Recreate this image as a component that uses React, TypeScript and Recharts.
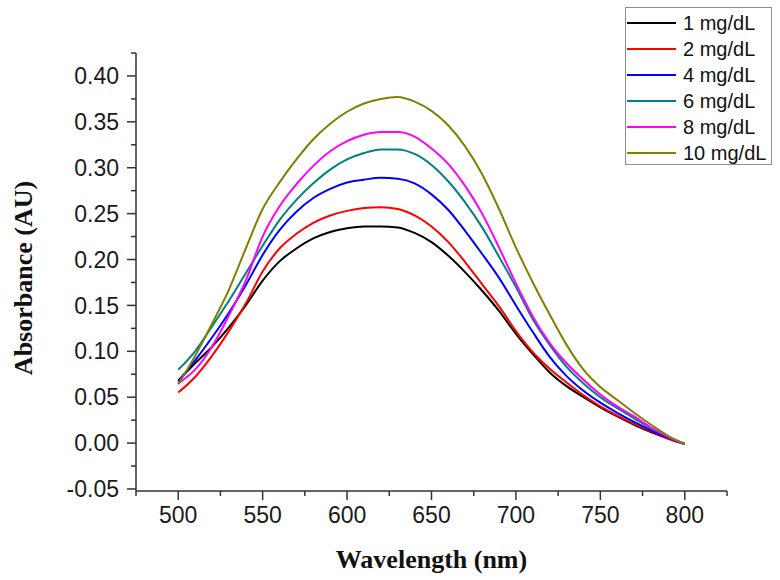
import React from 'react';
import { LineChart, Line, XAxis, YAxis, Legend } from 'recharts';

const wavelengths = [500, 510, 520, 530, 540, 550, 560, 570, 580, 590, 600, 610, 620, 630, 640, 650, 660, 670, 680, 690, 700, 710, 720, 730, 740, 750, 760, 770, 780, 790, 800];

const abs1 = [0.068, 0.087, 0.105, 0.126, 0.150, 0.177, 0.198, 0.212, 0.223, 0.230, 0.234, 0.236, 0.236, 0.235, 0.229, 0.219, 0.204, 0.186, 0.166, 0.144, 0.119, 0.097, 0.077, 0.062, 0.050, 0.039, 0.029, 0.020, 0.012, 0.005, -0.001];
const abs2 = [0.055, 0.072, 0.095, 0.122, 0.152, 0.187, 0.212, 0.228, 0.240, 0.248, 0.253, 0.256, 0.257, 0.255, 0.248, 0.236, 0.219, 0.197, 0.173, 0.149, 0.122, 0.099, 0.081, 0.066, 0.052, 0.040, 0.030, 0.021, 0.013, 0.005, -0.001];
const abs4 = [0.067, 0.090, 0.115, 0.142, 0.172, 0.205, 0.232, 0.252, 0.267, 0.277, 0.284, 0.287, 0.289, 0.288, 0.283, 0.271, 0.254, 0.231, 0.206, 0.180, 0.150, 0.121, 0.094, 0.073, 0.057, 0.044, 0.033, 0.023, 0.014, 0.006, -0.001];
const abs6 = [0.080, 0.100, 0.127, 0.155, 0.185, 0.215, 0.243, 0.265, 0.283, 0.298, 0.309, 0.316, 0.320, 0.320, 0.315, 0.303, 0.285, 0.262, 0.235, 0.203, 0.170, 0.135, 0.107, 0.083, 0.065, 0.050, 0.038, 0.027, 0.016, 0.007, -0.001];
const abs8 = [0.065, 0.080, 0.105, 0.139, 0.177, 0.225, 0.258, 0.282, 0.302, 0.318, 0.329, 0.336, 0.339, 0.339, 0.334, 0.321, 0.304, 0.280, 0.250, 0.213, 0.174, 0.138, 0.109, 0.087, 0.069, 0.053, 0.040, 0.029, 0.017, 0.007, -0.001];
const abs10 = [0.064, 0.095, 0.130, 0.167, 0.212, 0.255, 0.284, 0.309, 0.331, 0.348, 0.361, 0.370, 0.375, 0.377, 0.372, 0.362, 0.346, 0.323, 0.293, 0.255, 0.213, 0.175, 0.140, 0.107, 0.080, 0.061, 0.047, 0.033, 0.020, 0.008, -0.001];

const seriesKeys = ['c1', 'c2', 'c4', 'c6', 'c8', 'c10'];
const seriesNames = ['1 mg/dL', '2 mg/dL', '4 mg/dL', '6 mg/dL', '8 mg/dL', '10 mg/dL'];
const seriesColors = ['#000000', '#ff0000', '#0000ff', '#008080', '#ff00ff', '#808000'];
const seriesValues = [abs1, abs2, abs4, abs6, abs8, abs10];

const xMajorTicks = [500, 550, 600, 650, 700, 750, 800];
const xMinorTicks = [475, 525, 575, 625, 675, 725, 775, 825];
const yMajorTicks = [-0.05, 0, 0.05, 0.1, 0.15, 0.2, 0.25, 0.3, 0.35, 0.4];
const yMinorTicks = [-0.025, 0.025, 0.075, 0.125, 0.175, 0.225, 0.275, 0.325, 0.375, 0.425];

const xTitle = 'Wavelength (nm)';
const yTitle = 'Absorbance (AU)';

const data = wavelengths.map((wl, i) => {
  const row: Record<string, number> = { wl };
  seriesKeys.forEach((k, s) => {
    row[k] = seriesValues[s][i];
  });
  return row;
});

const AXIS_COLOR = '#333333';
const TICK_FONT = '"Liberation Sans", Arial, sans-serif';
const TITLE_FONT = '"Liberation Serif", "Times New Roman", serif';

const isMajor = (v: number, majors: number[]) => majors.some((m) => Math.abs(m - v) < 1e-9);

const XTick = (props: any) => {
  const { x, y, payload } = props;
  const v = payload.value as number;
  const major = isMajor(v, xMajorTicks);
  return (
    <g>
      <line x1={x} x2={x} y1={y} y2={y + (major ? 9 : 5)} stroke={AXIS_COLOR} strokeWidth={1.5} />
      {major && (
        <text x={x} y={y + 16} dy="0.71em" textAnchor="middle" fontFamily={TICK_FONT} fontSize={23} fill="#1a1a1a">
          {v}
        </text>
      )}
    </g>
  );
};

const YTick = (props: any) => {
  const { x, y, payload } = props;
  const v = payload.value as number;
  const major = isMajor(v, yMajorTicks);
  return (
    <g>
      <line x1={x - (major ? 9 : 5)} x2={x} y1={y} y2={y} stroke={AXIS_COLOR} strokeWidth={1.5} />
      {major && (
        <text x={x - 17} y={y} dy="0.355em" textAnchor="end" fontFamily={TICK_FONT} fontSize={23} fill="#1a1a1a">
          {v.toFixed(2)}
        </text>
      )}
    </g>
  );
};

const XTitle = (props: any) => {
  const vb = props.viewBox || {};
  const cx = (vb.x ?? 136) + (vb.width ?? 591) / 2;
  const y = (vb.y ?? 491) + 77;
  return (
    <text x={cx} y={y} textAnchor="middle" fontFamily={TITLE_FONT} fontWeight="bold" fontSize={26} fill="#111">
      {xTitle}
    </text>
  );
};

const YTitle = (props: any) => {
  const vb = props.viewBox || {};
  const cy = (vb.y ?? 53) + (vb.height ?? 438) / 2 + 6;
  const bx = 32;
  return (
    <text x={bx} y={cy} transform={`rotate(-90, ${bx}, ${cy})`} textAnchor="middle" fontFamily={TITLE_FONT} fontWeight="bold" fontSize={26} fill="#111">
      {yTitle}
    </text>
  );
};

const LegendBox = () => (
  <div
    style={{
      width: 147,
      height: 158,
      boxSizing: 'border-box',
      border: '1px solid #8f8f8f',
      paddingTop: 2,
      background: '#fff',
    }}
  >
    {seriesNames.map((name, i) => (
      <div key={name} style={{ display: 'flex', alignItems: 'center', height: 26 }}>
        <div style={{ width: 49, height: 2.5, background: seriesColors[i], marginLeft: 1 }} />
        <span style={{ marginLeft: 7, fontFamily: TICK_FONT, fontSize: 20, color: '#111', lineHeight: '26px', whiteSpace: 'nowrap' }}>
          {name}
        </span>
      </div>
    ))}
  </div>
);

export default function App() {
  return (
    <div style={{ position: 'absolute', left: 0, top: 0, width: 780, height: 580, background: '#fff' }}>
      <LineChart width={780} height={580} data={data} margin={{ top: 53, right: 53, left: 0, bottom: 0 }}>
        <XAxis
          dataKey="wl"
          type="number"
          domain={[475, 825]}
          ticks={[...xMajorTicks, ...xMinorTicks].sort((a, b) => a - b)}
          interval={0}
          height={89}
          tickSize={0}
          tickMargin={0}
          tickLine={false}
          tick={<XTick />}
          axisLine={{ stroke: AXIS_COLOR, strokeWidth: 1.5 }}
          allowDataOverflow
          label={{ content: <XTitle /> }}
        />
        <YAxis
          type="number"
          domain={[-0.0522, 0.425]}
          ticks={[...yMajorTicks, ...yMinorTicks].sort((a, b) => a - b)}
          interval={0}
          width={136}
          tickSize={0}
          tickMargin={0}
          tickLine={false}
          tick={<YTick />}
          axisLine={{ stroke: AXIS_COLOR, strokeWidth: 1.5 }}
          allowDataOverflow
          label={{ content: <YTitle /> }}
        />
        {seriesKeys.map((k, i) => (
          <Line
            key={k}
            type="monotone"
            dataKey={k}
            name={seriesNames[i]}
            stroke={seriesColors[i]}
            strokeWidth={2}
            dot={false}
            activeDot={false}
            isAnimationActive={false}
          />
        ))}
        <Legend
          layout="vertical"
          align="center"
          verticalAlign="middle"
          wrapperStyle={{ left: 625, top: 7, width: 147, height: 158 }}
          content={<LegendBox />}
        />
      </LineChart>
    </div>
  );
}
